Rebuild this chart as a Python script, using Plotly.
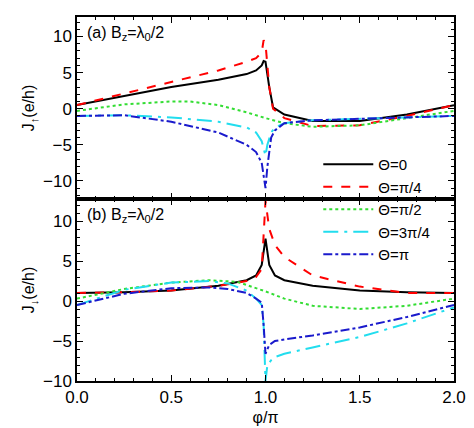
import plotly.graph_objects as go
from plotly.subplots import make_subplots

names = ["Θ=0", "Θ=π/4", "Θ=π/2", "Θ=3π/4", "Θ=π"]
colors = ["black", "red", "#33dd33", "#22ddee", "#1a1acc"]
dashes = ["solid", "dash", "dot", "longdashdot", "dashdot"]

# panel (a): J_up
a_x = [
    [0, 0.25, 0.5, 0.75, 0.9, 0.95, 0.98, 0.99, 1.0, 1.02, 1.04, 1.1, 1.25, 1.5, 1.75, 2.0],
    [0, 0.25, 0.5, 0.75, 0.9, 0.95, 0.98, 0.99, 1.0, 1.02, 1.04, 1.1, 1.25, 1.5, 1.75, 2.0],
    [0, 0.25, 0.5, 0.6, 0.75, 0.9, 1.0, 1.1, 1.25, 1.5, 1.75, 2.0],
    [0, 0.25, 0.5, 0.75, 0.9, 0.95, 0.98, 0.99, 1.0, 1.01, 1.03, 1.05, 1.1, 1.25, 1.5, 1.75, 2.0],
    [0, 0.25, 0.5, 0.75, 0.9, 0.95, 0.98, 0.99, 1.0, 1.01, 1.03, 1.05, 1.1, 1.25, 1.5, 1.75, 2.0],
]
a_y = [
    [0.5, 1.8, 3.0, 4.0, 4.8, 5.3, 6.0, 6.6, 6.5, 3.0, 0.2, -0.8, -1.7, -1.7, -0.8, 0.5],
    [0.5, 2.1, 3.8, 5.3, 6.5, 7.0, 7.8, 9.5, 9.0, 3.0, 0.0, -1.3, -2.4, -2.3, -1.0, 0.5],
    [-0.3, 0.6, 1.0, 1.0, 0.5, -0.5, -1.3, -2.0, -2.5, -2.3, -1.3, -0.3],
    [-1.0, -0.9, -1.2, -1.8, -2.6, -3.3, -4.5, -5.5, -6.5, -5.0, -3.3, -2.6, -2.0, -1.6, -1.4, -1.1, -1.0],
    [-1.0, -0.9, -1.8, -3.3, -5.0, -6.0, -7.5, -9.0, -11.0, -8.0, -4.0, -3.0, -2.0, -1.6, -1.4, -1.2, -1.0],
]
# panel (b): J_down
b_x = [
    [0, 0.25, 0.5, 0.75, 0.9, 0.95, 0.98, 1.0, 1.02, 1.05, 1.1, 1.25, 1.5, 1.75, 2.0],
    [0, 0.25, 0.5, 0.75, 0.9, 0.95, 0.98, 1.0, 1.02, 1.05, 1.1, 1.25, 1.5, 1.75, 2.0],
    [0, 0.25, 0.5, 0.7, 0.85, 1.0, 1.1, 1.25, 1.5, 1.75, 2.0],
    [0, 0.25, 0.5, 0.7, 0.8, 0.9, 0.95, 0.98, 0.99, 1.0, 1.01, 1.03, 1.05, 1.1, 1.25, 1.5, 1.75, 2.0],
    [0, 0.25, 0.5, 0.7, 0.8, 0.9, 0.95, 0.98, 0.99, 1.0, 1.02, 1.05, 1.1, 1.25, 1.5, 1.75, 2.0],
]
b_y = [
    [1.0, 1.1, 1.3, 1.9, 2.6, 3.2, 4.5, 7.8, 4.5, 3.2, 2.6, 1.9, 1.3, 1.1, 1.0],
    [1.0, 1.1, 1.3, 1.9, 2.5, 3.0, 4.0, 12.5, 9.0, 7.0, 5.5, 3.2, 1.8, 1.0, 1.0],
    [0.3, 1.5, 2.3, 2.6, 2.4, 1.2, 0.3, -0.6, -1.0, -0.6, 0.3],
    [-0.5, 1.4, 2.3, 2.5, 2.2, 1.3, 0.3, -0.5, -3.0, -10.0, -8.0, -7.4, -7.0, -6.6, -5.8, -4.5, -2.8, -0.8],
    [-0.5, 0.9, 1.6, 1.7, 1.5, 1.0, 0.3, -0.2, -3.0, -6.6, -5.5, -5.0, -4.8, -4.3, -3.3, -2.0, -0.5],
]

fig = make_subplots(rows=2, cols=1, shared_xaxes=True, vertical_spacing=0)
for i in range(5):
    fig.add_trace(go.Scatter(x=a_x[i], y=a_y[i], mode="lines", name=names[i],
                             line=dict(color=colors[i], dash=dashes[i], width=2)), row=1, col=1)
    fig.add_trace(go.Scatter(x=b_x[i], y=b_y[i], mode="lines", name=names[i], showlegend=False,
                             line=dict(color=colors[i], dash=dashes[i], width=2)), row=2, col=1)

ax = dict(showline=True, linecolor="black", linewidth=1.5, mirror="allticks", ticks="inside",
          ticklen=6, tickcolor="black", showgrid=False, zeroline=False,
          tickfont=dict(size=17, color="black"),
          minor=dict(ticks="inside", ticklen=3, tickcolor="black"))
fig.update_xaxes(**ax, range=[0, 2], dtick=0.5, tickformat=".1f")
fig.update_xaxes(showticklabels=False, row=1, col=1)
fig.update_xaxes(title=dict(text="φ/π", font=dict(size=16, color="black"), standoff=6), row=2, col=1)
fig.update_yaxes(**ax)
fig.update_yaxes(range=[-12.5, 12.7], dtick=5, row=1, col=1,
                 title=dict(text="J<sub>↑</sub>(e/h)", font=dict(size=16, color="black"), standoff=4))
fig.update_yaxes(range=[-10, 12.75], dtick=5, row=2, col=1,
                 title=dict(text="J<sub>↓</sub>(e/h)", font=dict(size=16, color="black"), standoff=4))

fig.add_annotation(x=0.02, y=0.985, xref="paper", yref="paper", xanchor="left", yanchor="top",
                   text="(a) B<sub>z</sub>=λ<sub>0</sub>/2", showarrow=False, font=dict(size=16, color="black"))
fig.add_annotation(x=0.02, y=0.485, xref="paper", yref="paper", xanchor="left", yanchor="top",
                   text="(b) B<sub>z</sub>=λ<sub>0</sub>/2", showarrow=False, font=dict(size=16, color="black"))

fig.update_layout(width=474, height=428, margin=dict(l=69, r=28, t=7, b=55),
                  plot_bgcolor="white", paper_bgcolor="white",
                  font=dict(family="Liberation Sans, Arial", color="black"),
                  legend=dict(x=0.64, y=0.64, xanchor="left", yanchor="top", bgcolor="rgba(0,0,0,0)",
                              font=dict(size=15), tracegroupgap=0, itemwidth=50))
fig.write_html("out.html")
